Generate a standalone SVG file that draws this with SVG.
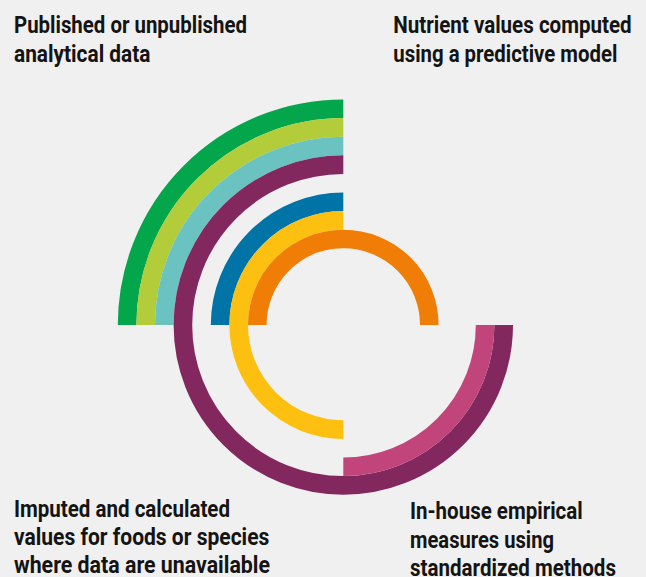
<svg xmlns="http://www.w3.org/2000/svg" width="646" height="577" viewBox="0 0 646 577">
<style>
.arc{fill:none;stroke-width:18.6;stroke-linecap:butt}
.lbl{font-family:Roboto,"Liberation Sans",sans-serif;font-weight:bold;font-size:24.5px;fill:#141414}
</style>
<rect width="646" height="577" fill="#F0F0F0"/>
<g id="rings">
<path id="green" class="arc" stroke="#04A64B" d="M127.1 325A216.2 216.2 0 0 1 343.3 108.8"/>
<path id="lightgreen" class="arc" stroke="#B2CC3A" d="M145.7 325A197.6 197.6 0 0 1 343.3 127.4"/>
<path id="teal" class="arc" stroke="#6AC3C0" d="M164.3 325A179 179 0 0 1 343.3 146"/>
<path id="purple" class="arc" stroke="#83275F" d="M503.7 325A160.4 160.4 0 1 1 343.3 164.6"/>
<path id="pink" class="arc" stroke="#C1457A" d="M485.1 325A141.8 141.8 0 0 1 343.3 466.8"/>
<path id="blue" class="arc" stroke="#0074A6" d="M220.1 325A123.2 123.2 0 0 1 343.3 201.8"/>
<path id="yellow" class="arc" stroke="#FDC010" d="M343.3 429.6A104.6 104.6 0 0 1 238.7 325A104.6 104.6 0 0 1 343.3 220.4"/>
<path id="orange" class="arc" stroke="#F07D05" d="M257.3 325A86 86 0 0 1 343.3 239A86 86 0 0 1 429.3 325"/>
</g>
<g id="label-published">
<text class="lbl" x="14" y="32.7" textLength="233" lengthAdjust="spacingAndGlyphs">Published or unpublished</text>
<text class="lbl" x="14" y="61.5" textLength="136.5" lengthAdjust="spacingAndGlyphs">analytical data</text>
</g>
<g id="label-predictive">
<text class="lbl" x="393.3" y="32.7" textLength="238.4" lengthAdjust="spacingAndGlyphs">Nutrient values computed</text>
<text class="lbl" x="393.3" y="61.5" textLength="224" lengthAdjust="spacingAndGlyphs">using a predictive model</text>
</g>
<g id="label-imputed">
<text class="lbl" x="14" y="516.7" textLength="216" lengthAdjust="spacingAndGlyphs">Imputed and calculated</text>
<text class="lbl" x="14" y="545" textLength="255.3" lengthAdjust="spacingAndGlyphs">values for foods or species</text>
<text class="lbl" x="14" y="573.3" textLength="256" lengthAdjust="spacingAndGlyphs">where data are unavailable</text>
</g>
<g id="label-inhouse">
<text class="lbl" x="410" y="519" textLength="172.7" lengthAdjust="spacingAndGlyphs">In-house empirical</text>
<text class="lbl" x="410" y="547.5" textLength="144" lengthAdjust="spacingAndGlyphs">measures using</text>
<text class="lbl" x="410" y="576" textLength="206" lengthAdjust="spacingAndGlyphs">standardized methods</text>
</g>
</svg>
